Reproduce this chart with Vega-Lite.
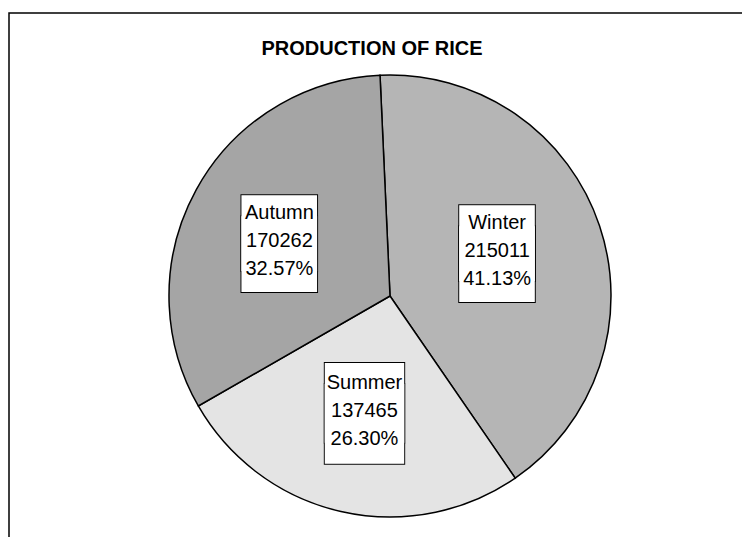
{
  "$schema": "https://vega.github.io/schema/vega-lite/v6.json",
  "width": 762,
  "height": 566,
  "autosize": {"type": "none"},
  "padding": {"left": 9, "top": 13, "right": -29, "bottom": -42},
  "background": "white",
  "view": {"stroke": "black", "strokeWidth": 1.5, "fill": "white"},
  "title": {
    "text": "PRODUCTION OF RICE",
    "font": "Liberation Sans",
    "fontSize": 20,
    "fontWeight": "bold",
    "color": "black",
    "anchor": "middle",
    "baseline": "alphabetic",
    "offset": 0,
    "dx": -18,
    "dy": 62
  },
  "data": {
    "values": [
      {"season": "Winter", "production": 215011, "pct": 0.4113},
      {"season": "Summer", "production": 137465, "pct": 0.2630},
      {"season": "Autumn", "production": 170262, "pct": 0.3257}
    ]
  },
  "encoding": {
    "theta": {"field": "production", "type": "quantitative", "stack": true, "scale": {"range": [-0.0452, 6.238]}},
    "order": {"field": "season", "sort": "descending"},
    "detail": {"field": "season", "type": "nominal"}
  },
  "layer": [
    {
      "mark": {"type": "arc", "outerRadius": 221, "stroke": "black", "strokeWidth": 1.5},
      "encoding": {
        "fill": {
          "field": "season",
          "type": "nominal",
          "scale": {"domain": ["Winter", "Summer", "Autumn"], "range": ["#b5b5b5", "#e4e4e4", "#a5a5a5"]},
          "legend": null
        }
      }
    },
    {
      "mark": {"type": "text", "radius": 119, "thetaOffset": -0.042, "font": "DejaVu Sans", "lineHeight": 21, "fill": "white", "stroke": "black", "strokeWidth": 2, "baseline": "middle", "align": "center", "dx": -4, "dy": -14},
      "encoding": {
        "text": {"value": ["■", "■"]},
        "size": {"condition": {"test": "datum.season === 'Summer'", "value": 104}, "value": 99}
      }
    },
    {
      "mark": {"type": "text", "radius": 119, "thetaOffset": -0.042, "font": "DejaVu Sans", "lineHeight": 21, "fill": "white", "baseline": "middle", "align": "center", "dx": -4, "dy": -14},
      "encoding": {
        "text": {"value": ["■", "■"]},
        "size": {"condition": {"test": "datum.season === 'Summer'", "value": 104}, "value": 99}
      }
    },
    {
      "mark": {"type": "text", "radius": 119, "thetaOffset": -0.042, "font": "Liberation Sans", "fontSize": 20, "fill": "black", "baseline": "middle", "align": "center", "dx": -4, "dy": -30},
      "encoding": {"text": {"field": "season", "type": "nominal"}}
    },
    {
      "mark": {"type": "text", "radius": 119, "thetaOffset": -0.042, "font": "Liberation Sans", "fontSize": 20, "fill": "black", "baseline": "middle", "align": "center", "dx": -4, "dy": -2},
      "encoding": {"text": {"field": "production", "type": "quantitative", "format": "d"}}
    },
    {
      "mark": {"type": "text", "radius": 119, "thetaOffset": -0.042, "font": "Liberation Sans", "fontSize": 20, "fill": "black", "baseline": "middle", "align": "center", "dx": -4, "dy": 26},
      "encoding": {"text": {"field": "pct", "type": "quantitative", "format": ".2%"}}
    }
  ]
}
